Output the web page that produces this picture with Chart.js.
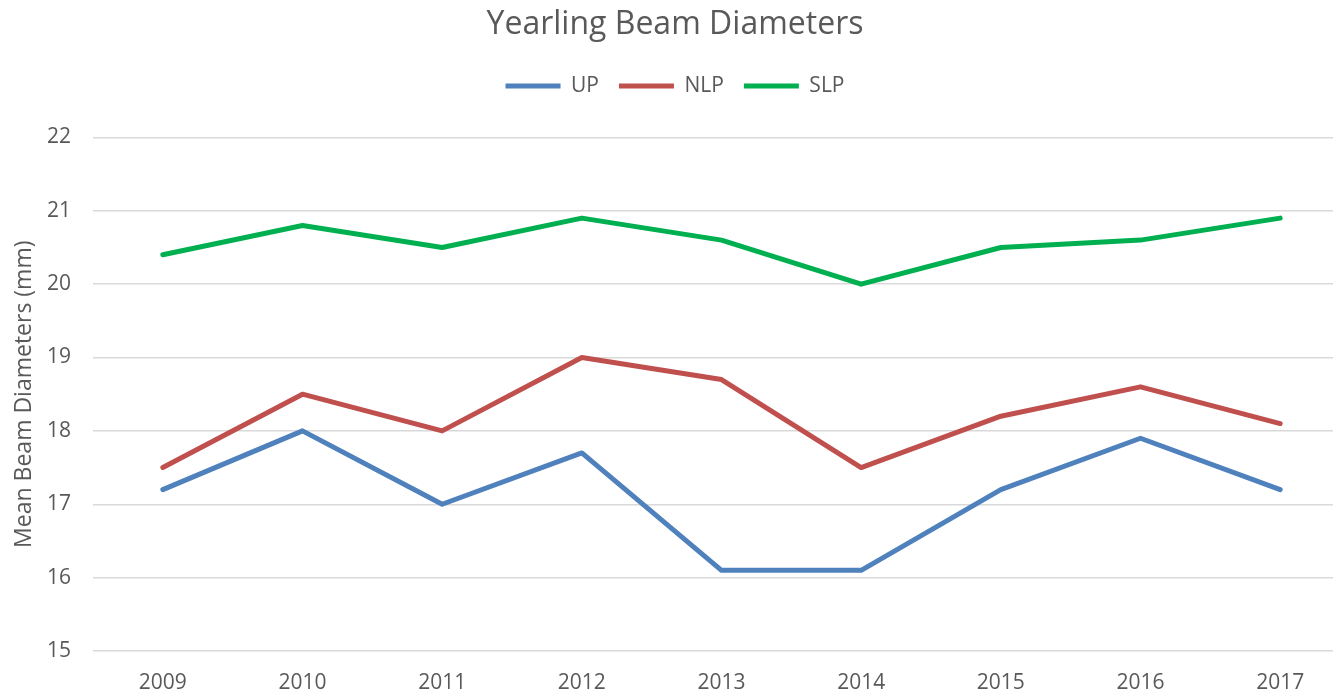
<!DOCTYPE html>
<html>
<head>
<meta charset="utf-8">
<script src="https://cdn.jsdelivr.net/npm/chart.js@4/dist/chart.umd.min.js"></script>
<style>
  html, body { margin: 0; padding: 0; background: #fff; overflow: hidden; }
  #wrap { width: 1333px; height: 695px; overflow: hidden; }
</style>
</head>
<body>
<div id="wrap"><canvas id="beamChart" width="1350" height="695"></canvas></div>
<script>
// Yearling beam diameters by region, 2009-2017.
const years = ['2009', '2010', '2011', '2012', '2013', '2014', '2015', '2016', '2017'];
const upValues  = [17.2, 18.0, 17.0, 17.7, 16.1, 16.1, 17.2, 17.9, 17.2];
const nlpValues = [17.5, 18.5, 18.0, 19.0, 18.7, 17.5, 18.2, 18.6, 18.1];
const slpValues = [20.4, 20.8, 20.5, 20.9, 20.6, 20.0, 20.5, 20.6, 20.9];

const TEXT = '#595959';
const FONT = "'Open Sans', 'Noto Sans', sans-serif";

function series(label, values, color) {
    return {
        label: label,
        data: values,
        borderColor: color,
        backgroundColor: color,
        borderWidth: 5,
        borderCapStyle: 'round',
        borderJoinStyle: 'round',
        pointRadius: 0,
        pointHoverRadius: 0,
        pointStyle: 'line',
        tension: 0
    };
}

// extra space under the legend, like the original layout
const legendGap = {
    id: 'legendGap',
    beforeInit(chart) {
        const fit = chart.legend.fit;
        chart.legend.fit = function() {
            fit.bind(chart.legend)();
            this.height += 31;
        };
    }
};

new Chart(document.getElementById('beamChart'), {
    type: 'line',
    data: {
        labels: years,
        datasets: [
            series('UP',  upValues,  '#4f81bd'),
            series('NLP', nlpValues, '#c0504d'),
            series('SLP', slpValues, '#00b050')
        ]
    },
    options: {
        responsive: false,
        animation: false,
        layout: { padding: { top: 6, right: 0, bottom: 0, left: 0 } },
        plugins: {
            title: {
                display: true,
                text: 'Yearling Beam Diameters',
                color: TEXT,
                font: { family: FONT, size: 32, weight: 'normal' },
                padding: { top: 0, bottom: 11 }
            },
            legend: {
                position: 'top',
                labels: {
                    usePointStyle: true,
                    pointStyleWidth: 55,
                    boxHeight: 20,
                    padding: 20,
                    color: TEXT,
                    font: { family: FONT, size: 21 }
                }
            },
            tooltip: { enabled: false }
        },
        scales: {
            x: {
                offset: true,
                grid: { display: false, drawTicks: false },
                border: { display: false },
                ticks: { color: TEXT, padding: 19, font: { family: FONT, size: 21 } },
                afterFit: s => { s.height = 44; }
            },
            y: {
                min: 15,
                max: 22,
                ticks: { stepSize: 1, color: TEXT, padding: 22, font: { family: FONT, size: 21 } },
                grid: { color: '#d9d9d9', lineWidth: 1.5, drawTicks: false },
                border: { display: false },
                title: {
                    display: true,
                    text: 'Mean Beam Diameters (mm)',
                    color: TEXT,
                    font: { family: FONT, size: 23 },
                    padding: { top: 11, bottom: 0 }
                },
                afterFit: s => { s.width = 93; }
            }
        }
    },
    plugins: [legendGap]
});
</script>
</body>
</html>
